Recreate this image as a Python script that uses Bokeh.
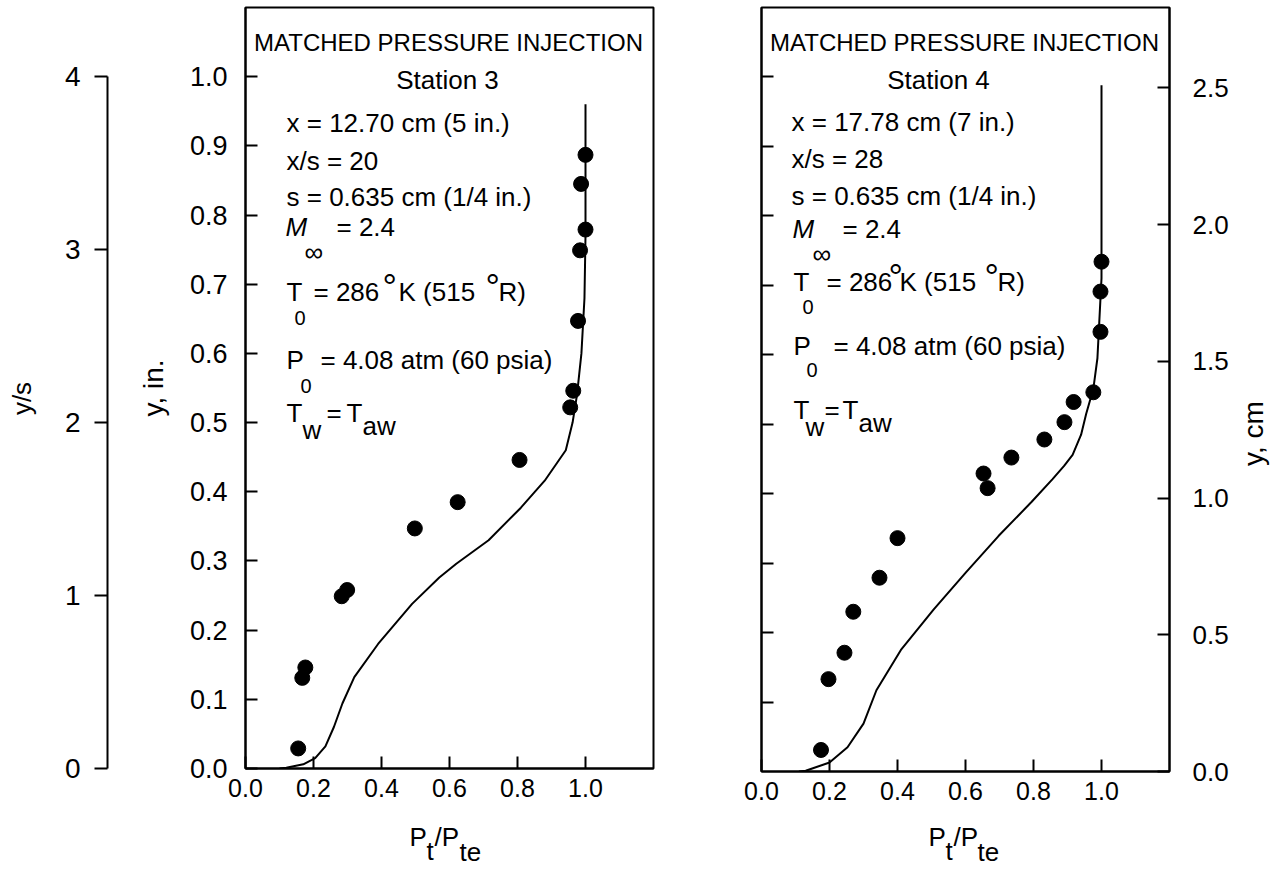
import math
from bokeh.plotting import figure
from bokeh.models import (Range1d, LinearAxis, FixedTicker, PrintfTickFormatter, Label,
                          CustomLabelingPolicy)
from bokeh.layouts import row, column
from bokeh.embed import file_html
from bokeh.resources import INLINE

# ---------------- data ----------------
# Station 3 (left panel): measured points, Pt/Pte vs y (in.)
st3_pt = [0.155, 0.167, 0.176, 0.283, 0.299, 0.498, 0.624, 0.806, 0.955, 0.964, 0.978, 0.984, 1.0, 0.987, 1.0]
st3_y = [0.029, 0.131, 0.146, 0.249, 0.258, 0.347, 0.385, 0.446, 0.522, 0.546, 0.647, 0.749, 0.779, 0.845, 0.887]
# Station 3 predicted profile (solid curve)
st3_curve_pt = [0.10, 0.12, 0.17, 0.205, 0.235, 0.26, 0.285, 0.32, 0.39, 0.49, 0.57, 0.62, 0.715, 0.81, 0.88,
                0.942, 0.962, 0.975, 0.988, 0.997, 1.0, 1.0]
st3_curve_y = [0.0, 0.001, 0.006, 0.015, 0.032, 0.06, 0.094, 0.132, 0.18, 0.238, 0.276, 0.296, 0.33, 0.377,
               0.416, 0.46, 0.50, 0.54, 0.60, 0.68, 0.77, 0.96]

# Station 4 (right panel)
st4_pt = [0.175, 0.197, 0.244, 0.27, 0.347, 0.40, 0.653, 0.665, 0.735, 0.832, 0.891, 0.918, 0.976, 0.997, 0.997, 1.0]
st4_y = [0.031, 0.133, 0.171, 0.23, 0.279, 0.336, 0.429, 0.408, 0.452, 0.478, 0.503, 0.532, 0.546, 0.633, 0.691, 0.734]
st4_curve_pt = [0.11, 0.13, 0.20, 0.253, 0.30, 0.338, 0.41, 0.506, 0.60, 0.697, 0.794, 0.856, 0.89, 0.915, 0.94,
                0.955, 0.976, 0.988, 1.0, 1.0]
st4_curve_y = [0.0, 0.001, 0.013, 0.035, 0.069, 0.117, 0.175, 0.233, 0.286, 0.339, 0.388, 0.421, 0.44, 0.456, 0.485,
               0.515, 0.551, 0.595, 0.71, 0.988]

x_ticks = [0.0, 0.2, 0.4, 0.6, 0.8, 1.0]
y_in_ticks = [0.0, 0.1, 0.2, 0.3, 0.4, 0.5, 0.6, 0.7, 0.8, 0.9, 1.0]
y_in_ticks_right = [0.1, 0.2, 0.3, 0.4, 0.5, 0.6, 0.7, 0.8, 0.9, 1.0]
ys_ticks = [0, 1, 2, 3, 4]
cm_ticks = [0.0, 0.5, 1.0, 1.5, 2.0, 2.5]

X_MAX = 1.2
Y_MAX = 1.1
S_IN = 0.25  # slot height, in.

H = 869
TOP = 7          # common top border of every figure in the row
FONT = "Liberation Sans"
COMMON = dict(output_backend="svg", toolbar_location=None)


def style_axis(ax, ticks, fmt, size, tick_in, tick_out, standoff):
    ax.ticker = FixedTicker(ticks=ticks)
    ax.formatter = PrintfTickFormatter(format=fmt)
    ax.major_tick_in = tick_in
    ax.major_tick_out = tick_out
    ax.minor_tick_line_color = None
    ax.major_tick_line_width = 2
    ax.major_tick_line_color = "black"
    ax.axis_line_width = 2
    ax.axis_line_color = "black"
    ax.major_label_text_font = FONT
    ax.major_label_text_font_size = size
    ax.major_label_text_color = "black"
    ax.major_label_standoff = standoff


def put(p, geom, text, px, py, size, align="left", angle=0.0, style="normal"):
    (FL, FR, FT, FB), (x0, x1, y0, y1) = geom
    x = x0 + (px - FL) * (x1 - x0) / (FR - FL)
    y = y0 + (FB - py) * (y1 - y0) / (FB - FT)
    p.add_layout(Label(x=x, y=y, text=text, text_font=FONT, text_font_size=f"{size}px",
                       text_align=align, text_baseline="middle", angle=angle,
                       text_font_style=style, text_color="black"))


def text_fig(w, h, x_off, y_off, bl=0, br=0, bt=0, bb=0):
    """A blank figure whose data coordinates equal page pixels (y negated)."""
    L, R, T, B = x_off + bl, x_off + w - br, y_off + bt, y_off + h - bb
    f = figure(width=w, height=h, x_range=Range1d(L, R), y_range=Range1d(-B, -T),
               x_axis_location=None, y_axis_location=None, outline_line_color=None,
               min_border_left=bl, min_border_right=br, min_border_top=bt, min_border_bottom=bb, **COMMON)
    f.grid.visible = False
    geom = ((L, R, T, B), (L, R, -B, -T))
    return f, geom


# ---------------- y/s title and scale (far left) ----------------
pa0, geomA0 = text_fig(45, H, 0, 0, bt=TOP, bb=H - 768)
put(pa0, geomA0, "y/s", 21, 398, 26, align="center", angle=math.pi / 2)

pa = figure(width=65, height=H, x_range=Range1d(0, 1), y_range=Range1d(0, Y_MAX / S_IN),
            x_axis_location=None, y_axis_location=None,
            min_border_left=62, min_border_right=0, min_border_top=TOP, min_border_bottom=H - 768,
            outline_line_color=None, **COMMON)
pa.grid.visible = False
ax_ys = LinearAxis(bounds=(0, 4))
style_axis(ax_ys, ys_ticks, "%d", "28px", 0, 13, 14)
pa.add_layout(ax_ys, "left")

# ---------------- Station 3 ----------------
HB = 812
pb = figure(width=590, height=HB, x_range=Range1d(0, X_MAX), y_range=Range1d(0, Y_MAX),
            min_border_left=135, min_border_right=47, min_border_top=TOP, min_border_bottom=HB - 768,
            outline_line_color="black", outline_line_width=2, **COMMON)
pb.grid.visible = False
style_axis(pb.xaxis[0], x_ticks, "%.1f", "25px", 12, 0, 10)
style_axis(pb.yaxis[0], y_in_ticks, "%.1f", "27px", 12, 0, 18)
pb.yaxis[0].axis_label = "y, in."
pb.yaxis[0].axis_label_text_font = FONT
pb.yaxis[0].axis_label_text_font_size = "28px"
pb.yaxis[0].axis_label_text_font_style = "normal"
pb.yaxis[0].axis_label_text_color = "black"
pb.yaxis[0].axis_label_standoff = 18
pb.line(st3_curve_pt, st3_curve_y, line_color="black", line_width=2)
pb.scatter(st3_pt, st3_y, marker="circle", size=15, fill_color="black", line_color="black")

geomB = ((245, 653, TOP, 768), (0, X_MAX, 0, Y_MAX))
put(pb, geomB, "MATCHED PRESSURE INJECTION", 448, 42, 24, align="center")
put(pb, geomB, "Station 3", 447, 79, 26, align="center")
put(pb, geomB, "x = 12.70 cm (5 in.)", 286, 122, 26)
put(pb, geomB, "x/s = 20", 286, 160, 26)
put(pb, geomB, "s = 0.635 cm (1/4 in.)", 286, 196, 26)
put(pb, geomB, "M", 285, 226, 26, style="italic")
put(pb, geomB, "\u221e", 304, 251, 26)
put(pb, geomB, "= 2.4", 336, 226, 26)
put(pb, geomB, "T", 286, 291, 26)
put(pb, geomB, "0", 294, 317, 20)
put(pb, geomB, "= 286", 313, 291, 26)
put(pb, geomB, "\u00b0", 382, 287, 36)
put(pb, geomB, "K (515", 398, 291, 26)
put(pb, geomB, "\u00b0", 485, 287, 36)
put(pb, geomB, "R)", 498, 291, 26)
put(pb, geomB, "P", 286, 359, 26)
put(pb, geomB, "0", 300, 385, 20)
put(pb, geomB, "= 4.08 atm (60 psia)", 320, 359, 26)
put(pb, geomB, "T", 286, 412, 26)
put(pb, geomB, "w", 302, 429, 26)
put(pb, geomB, "=", 326, 412, 26)
put(pb, geomB, "T", 346, 412, 26)
put(pb, geomB, "aw", 362, 425, 26)

pbl, geomBl = text_fig(590, H - HB, 110, HB, bl=135, br=47)
put(pbl, geomBl, "P", 409, 836, 26)
put(pbl, geomBl, "t", 426, 850, 26)
put(pbl, geomBl, "/P", 434, 836, 26)
put(pbl, geomBl, "te", 459, 851, 26)

# ---------------- Station 4 ----------------
HC = 815
pc = figure(width=536, height=HC, x_range=Range1d(0, X_MAX), y_range=Range1d(0, Y_MAX),
            min_border_left=61, min_border_right=67, min_border_top=TOP, min_border_bottom=HC - 771,
            outline_line_color="black", outline_line_width=2, **COMMON)
pc.grid.visible = False
pc.extra_y_ranges = {"cm": Range1d(0, Y_MAX * 2.54)}
style_axis(pc.xaxis[0], x_ticks, "%.1f", "25px", 12, 0, 10)
style_axis(pc.yaxis[0], y_in_ticks_right, "%.1f", "27px", 12, 0, 0)
pc.yaxis[0].major_label_policy = CustomLabelingPolicy(
    code="for (const i of indices) { indices.unset(i) }\nreturn indices")
ax_cm = LinearAxis(y_range_name="cm")
style_axis(ax_cm, cm_ticks, "%.1f", "26px", 12, 0, 23)
pc.add_layout(ax_cm, "right")
pc.line(st4_curve_pt, st4_curve_y, line_color="black", line_width=2)
pc.scatter(st4_pt, st4_y, marker="circle", size=15, fill_color="black", line_color="black")

geomC = ((761, 1169, TOP, 771), (0, X_MAX, 0, Y_MAX))
put(pc, geomC, "MATCHED PRESSURE INJECTION", 964, 42, 24, align="center")
put(pc, geomC, "Station 4", 938, 79, 26, align="center")
put(pc, geomC, "x = 17.78 cm (7 in.)", 791, 121, 26)
put(pc, geomC, "x/s = 28", 791, 158, 26)
put(pc, geomC, "s = 0.635 cm (1/4 in.)", 791, 195, 26)
put(pc, geomC, "M", 792, 228, 26, style="italic")
put(pc, geomC, "\u221e", 812, 253, 26)
put(pc, geomC, "= 2.4", 842, 228, 26)
put(pc, geomC, "T", 793, 281, 26)
put(pc, geomC, "0", 802, 306, 20)
put(pc, geomC, "= 286", 826, 281, 26)
put(pc, geomC, "\u00b0", 888, 277, 36)
put(pc, geomC, "K (515", 899, 281, 26)
put(pc, geomC, "\u00b0", 984, 277, 36)
put(pc, geomC, "R)", 997, 281, 26)
put(pc, geomC, "P", 793, 345, 26)
put(pc, geomC, "0", 806, 369, 20)
put(pc, geomC, "= 4.08 atm (60 psia)", 833, 345, 26)
put(pc, geomC, "T", 793, 409, 26)
put(pc, geomC, "w", 805, 426, 26)
put(pc, geomC, "=", 824, 409, 26)
put(pc, geomC, "T", 842, 409, 26)
put(pc, geomC, "aw", 858, 422, 26)

pcl, geomCl = text_fig(536, H - HC, 700, HC, bl=61, br=67)
put(pcl, geomCl, "P", 928, 836, 26)
put(pcl, geomCl, "t", 945, 850, 26)
put(pcl, geomCl, "/P", 953, 836, 26)
put(pcl, geomCl, "te", 977, 851, 26)

pd, geomD = text_fig(40, H, 1236, 0, bt=TOP, bb=H - 768)
put(pd, geomD, "y, cm", 1253, 433, 28, align="center", angle=math.pi / 2)

layout = row(pa0, pa, column(pb, pbl, spacing=0), column(pc, pcl, spacing=0), pd, spacing=0)
open("out.html", "w").write(file_html(layout, INLINE))
